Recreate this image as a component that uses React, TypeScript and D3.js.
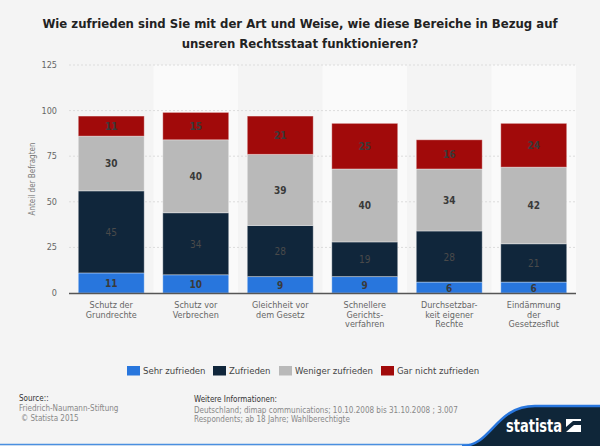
import React from "react";
import * as d3 from "d3";

const categories = [
  ["Schutz der", "Grundrechte"],
  ["Schutz vor", "Verbrechen"],
  ["Gleichheit vor", "dem Gesetz"],
  ["Schnellere", "Gerichts-", "verfahren"],
  ["Durchsetzbar-", "keit eigener", "Rechte"],
  ["Eindämmung", "der", "Gesetzesflut"],
];
const seriesNames = ["Sehr zufrieden", "Zufrieden", "Weniger zufrieden", "Gar nicht zufrieden"];
const sehrZufrieden = [11, 10, 9, 9, 6, 6];
const zufrieden = [45, 34, 28, 19, 28, 21];
const wenigerZufrieden = [30, 40, 39, 40, 34, 42];
const garNichtZufrieden = [11, 15, 21, 25, 16, 24];
const yTicks = [0, 25, 50, 75, 100, 125];
const colors = ["#2876dd", "#10263b", "#b9b9b9", "#a10a0a"];

const W = 600;
const H = 446;
const FONT = "'DejaVu Sans Condensed', 'DejaVu Sans', sans-serif";

export default function App() {
  const keys = ["s0", "s1", "s2", "s3"];
  const rows = categories.map((c, i) => ({
    idx: i,
    s0: sehrZufrieden[i],
    s1: zufrieden[i],
    s2: wenigerZufrieden[i],
    s3: garNichtZufrieden[i],
  }));
  const stacked = d3.stack<any>().keys(keys)(rows);
  const x = d3
    .scaleBand<number>()
    .domain(rows.map((r) => r.idx))
    .range([69, 576])
    .paddingInner(0.22)
    .paddingOuter(0.11);
  const y = d3.scaleLinear().domain([0, 125]).range([293, 65]);
  const step = x.step();
  const bw = x.bandwidth();

  const legendX = [127, 213, 279, 381];

  return (
    <div style={{ position: "fixed", left: 0, top: 0 }}>
      <svg width={W} height={H} style={{ display: "block", fontFamily: FONT }}>
        <rect x={0} y={0} width={W} height={H} fill="#f4f4f4" />
        <text x={300} y={28} textAnchor="middle" fontSize={13} fontWeight="bold" fill="#222">
          Wie zufrieden sind Sie mit der Art und Weise, wie diese Bereiche in Bezug auf
        </text>
        <text x={300} y={48} textAnchor="middle" fontSize={13} fontWeight="bold" fill="#222">
          unseren Rechtsstaat funktionieren?
        </text>

        {rows.map((r, i) =>
          i % 2 === 1 ? (
            <rect
              key={"band" + i}
              x={69 + i * step}
              y={y(125)}
              width={step}
              height={y(0) - y(125)}
              fill="#fafafa"
            />
          ) : null
        )}

        {yTicks.map((t) => (
          <g key={"t" + t}>
            {t > 0 && (
              <line
                x1={69}
                x2={576}
                y1={y(t)}
                y2={y(t)}
                stroke="#dcdcdc"
                strokeDasharray="2,2"
              />
            )}
            <text x={57} y={y(t) + 3} textAnchor="end" fontSize={9} fill="#666">
              {t}
            </text>
          </g>
        ))}
        <text
          transform={`translate(35,${(y(0) + y(125)) / 2}) rotate(-90)`}
          textAnchor="middle"
          fontSize={8}
          fill="#777"
        >
          Anteil der Befragten
        </text>

        {stacked.map((layer, li) =>
          layer.map((d, i) => (
            <g key={`b${li}-${i}`}>
              <rect
                x={x(i)}
                y={y(d[1])}
                width={bw}
                height={y(d[0]) - y(d[1])}
                fill={colors[li]}
                stroke="rgba(255,255,255,0.35)"
                strokeWidth={1}
              />
              <text
                x={(x(i) as number) + bw / 2}
                y={(y(d[0]) + y(d[1])) / 2 + 4}
                textAnchor="middle"
                fontSize={10}
                fontWeight={li === 1 ? "normal" : "bold"}
                fill={li === 1 ? "#4a4a4a" : "#3a3a3a"}
              >
                {d[1] - d[0]}
              </text>
            </g>
          ))
        )}

        <line x1={69} x2={576} y1={y(0) + 0.5} y2={y(0) + 0.5} stroke="#555" strokeWidth={1.5} />

        {categories.map((lines, i) => (
          <text
            key={"xl" + i}
            x={(x(i) as number) + bw / 2}
            y={308}
            textAnchor="middle"
            fontSize={9}
            fill="#666"
          >
            {lines.map((l, k) => (
              <tspan key={k} x={(x(i) as number) + bw / 2} dy={k === 0 ? 0 : 9.6}>
                {l}
              </tspan>
            ))}
          </text>
        ))}

        {seriesNames.map((n, i) => (
          <g key={"lg" + i}>
            <rect x={legendX[i]} y={366} width={13} height={9.5} fill={colors[i]} />
            <text x={legendX[i] + 16} y={374} fontSize={9.5} fill="#444">
              {n}
            </text>
          </g>
        ))}

        <text x={19} y={401} fontSize={8} fill="#333">Source::</text>
        <text x={19} y={411} fontSize={8} fill="#888">Friedrich-Naumann-Stiftung</text>
        <text x={21} y={421} fontSize={8} fill="#888">© Statista 2015</text>
        <text x={194} y={402} fontSize={8} fill="#333">Weitere Informationen:</text>
        <text x={194} y={413} fontSize={8} fill="#888">
          Deutschland; dimap communications; 10.10.2008 bis 31.10.2008 ; 3.007
        </text>
        <text x={194} y={422} fontSize={8} fill="#888">
          Respondents; ab 18 Jahre; Wahlberechtigte
        </text>

        <line x1={0} x2={600} y1={444.5} y2={444.5} stroke="#4a8fe0" strokeWidth={1.5} />
        <path d="M462,446 C492,446 495,406 535,406 L600,406 L600,446 Z" fill="#0f2639" />
        <path d="M462,446 C492,446 495,406 535,406 L600,406" fill="none" stroke="#2876dd" strokeWidth={2.5} />
        <text
          x={506}
          y={432}
          fontSize={17}
          fontWeight="bold"
          fill="#fff"
          textLength={56}
          lengthAdjust="spacingAndGlyphs"
        >
          statista
        </text>
        <rect x={566} y={419} width={15} height={13} fill="#fff" />
        <path d="M566,432 L574,425 L581,425 L581,421 L573,421 L566,427 Z" fill="#0f2639" />
      </svg>
    </div>
  );
}
